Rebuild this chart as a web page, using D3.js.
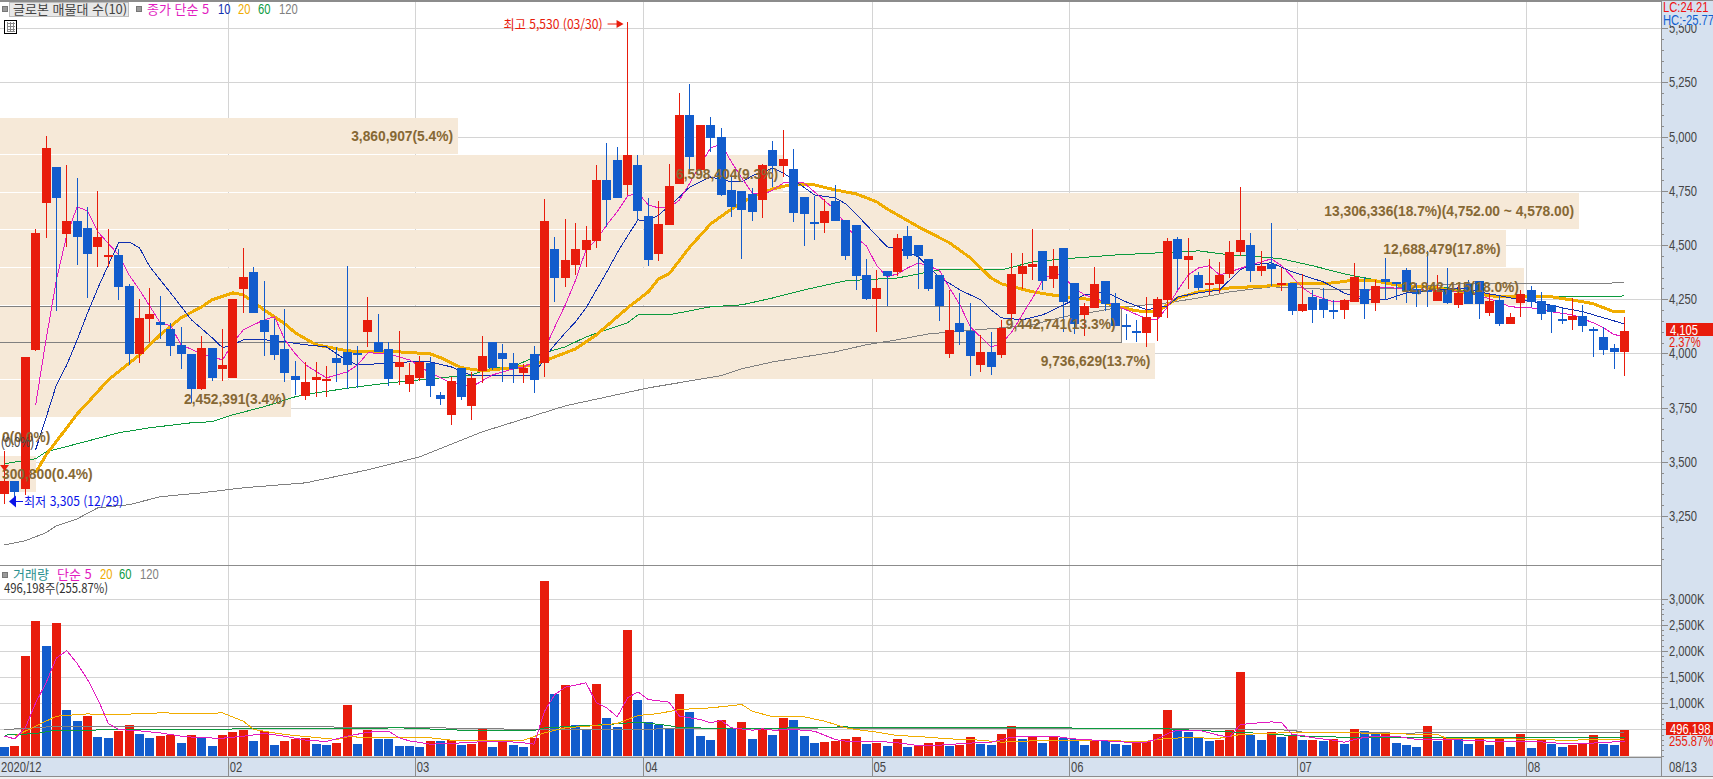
<!DOCTYPE html>
<html lang="ko"><head><meta charset="utf-8"><title>글로본 매물대</title>
<script src="https://cdn.jsdelivr.net/npm/d3@7/dist/d3.min.js"></script>
<style>
html,body{margin:0;padding:0;background:#fff;overflow:hidden}
svg{display:block}
text{font-family:"Liberation Sans","Noto Sans CJK KR",sans-serif;font-size:14px}
.band{font-family:"Liberation Sans","Noto Sans CJK KR",sans-serif;font-weight:bold;font-size:13.8px;fill:#866834}
.ko{font-family:"Noto Sans CJK KR",sans-serif;font-size:13px}
</style></head><body><div id="chart"></div>
<script>
const opens=[3353,3413,3376,4017,4694,4860,4551,4611,4579,4491,4445,4454,4312,3998,4159,4146,4113,4040,3998,3837,4026,3929,3887,4298,4376,4155,4086,4021,3897,3804,3878,3874,3980,4007,4003,4099,4053,4021,3938,3860,3887,3957,3809,3717,3934,3758,3920,4053,4003,3957,3910,3998,3957,4482,4348,4408,4478,4519,4800,4892,4777,4869,4634,4459,4593,4782,5100,4846,5054,4998,4754,4750,4736,4708,4939,4865,4851,4722,4607,4602,4703,4616,4593,4362,4252,4381,4376,4542,4500,4436,4362,3998,4141,4104,3947,4007,3993,4182,4367,4399,4473,4344,4487,4325,4178,4210,4335,4233,4132,4104,4095,4169,4247,4528,4431,4362,4316,4321,4367,4468,4500,4381,4413,4316,4325,4196,4261,4252,4201,4201,4238,4298,4233,4344,4330,4385,4298,4293,4242,4293,4224,4321,4335,4187,4247,4136,4233,4293,4242,4224,4159,4155,4173,4113,4076,4026,4007];
const highs=[3551,3413,3984,4574,5003,4860,4869,4809,4676,4750,4574,4482,4321,4252,4302,4265,4141,4123,3998,4081,4026,4113,4252,4487,4399,4335,4159,4205,3966,3961,3961,3943,4030,4404,4035,4261,4182,4053,4104,3957,3989,3984,3823,3892,3934,3915,4081,4053,4044,4003,3952,4035,4713,4537,4620,4602,4588,4869,4971,4952,5530,4915,4717,4703,4874,5201,5243,5054,5091,5040,4823,4750,4763,4874,4980,5031,4943,4722,4726,4713,4777,4616,4593,4436,4385,4381,4551,4588,4500,4436,4362,4293,4279,4233,4086,4099,4155,4464,4464,4574,4473,4482,4487,4325,4233,4399,4335,4279,4182,4155,4261,4261,4533,4537,4533,4376,4436,4422,4519,4768,4556,4473,4602,4395,4325,4367,4293,4302,4247,4252,4418,4353,4339,4441,4330,4395,4325,4473,4362,4395,4316,4339,4335,4279,4265,4187,4293,4312,4284,4224,4210,4256,4224,4123,4123,4044,4169];
const lows=[3305,3325,3348,4010,4533,4196,4491,4408,4256,4399,4399,4247,3947,3957,4053,4067,3989,3929,3772,3832,3874,3874,3887,4187,4187,3989,3970,3869,3809,3786,3800,3800,3869,3837,3841,4030,4007,3850,3855,3823,3874,3800,3763,3671,3786,3694,3864,3924,3869,3864,3864,3818,3892,4238,4307,4362,4399,4487,4584,4717,4731,4616,4404,4427,4593,4782,4846,4832,4929,4726,4630,4436,4611,4625,4768,4814,4607,4496,4524,4556,4611,4431,4293,4247,4099,4219,4358,4436,4298,4288,4150,3980,4040,3897,3915,3901,3980,4132,4298,4339,4293,4302,4099,4090,4081,4210,4196,4127,4063,4053,4030,4058,4164,4293,4298,4293,4270,4279,4348,4450,4330,4358,4312,4288,4178,4192,4141,4164,4159,4159,4238,4159,4196,4247,4247,4233,4215,4215,4242,4229,4210,4229,4159,4173,4127,4136,4169,4215,4155,4095,4136,4109,4099,3984,3993,3929,3897];
const closes=[3413,3359,3984,4556,4948,4717,4611,4537,4459,4537,4454,4307,3998,4164,4182,4132,4035,3998,3837,4026,3887,3947,4252,4353,4187,4099,3993,3910,3878,3869,3892,3883,3957,3947,3993,4155,4007,3883,3961,3901,3961,3850,3791,3874,3800,3887,3989,3934,3975,3929,3934,3878,4611,4348,4431,4482,4524,4800,4708,4717,4915,4657,4431,4597,4773,5100,4906,5054,4994,4731,4676,4662,4653,4869,4865,4897,4648,4643,4602,4657,4611,4450,4358,4252,4302,4358,4533,4450,4450,4298,4219,4109,4099,3989,4007,3938,4118,4367,4404,4413,4335,4404,4238,4136,4219,4321,4229,4127,4125,4095,4169,4252,4519,4436,4450,4302,4325,4362,4468,4524,4381,4404,4390,4325,4196,4229,4201,4201,4192,4247,4353,4229,4312,4330,4325,4288,4275,4284,4293,4233,4279,4229,4229,4242,4136,4169,4275,4238,4182,4192,4155,4173,4127,4104,4017,4007,4105];
const volumes=[153,191,1911,2580,2102,2542,879,669,764,363,344,459,592,420,344,382,401,248,401,344,191,401,440,497,268,459,210,268,306,344,229,210,248,975,229,497,325,325,191,191,172,268,268,287,210,229,516,172,287,210,153,344,3344,1185,1357,592,516,1376,726,554,2408,1070,631,592,516,1185,841,382,287,688,516,650,325,516,401,726,688,382,248,250,268,325,363,229,232,191,306,153,210,248,252,191,210,363,229,210,420,573,306,363,248,363,344,325,210,287,268,229,210,248,268,420,879,497,440,344,268,287,497,1605,401,287,440,363,401,287,290,268,306,229,516,459,420,440,248,210,172,573,268,363,344,229,325,210,306,172,420,134,287,229,172,210,215,401,229,210,496];

const ma5=[[3,3763],[4,4063],[5,4339],[6,4547],[7,4676],[8,4657],[9,4560],[11,4454],[12,4362],[13,4293],[15,4141],[16,4127],[17,4040],[19,3998],[21,3970],[22,4049],[23,4109],[25,4155],[26,4169],[27,4063],[28,3998],[29,3947],[31,3887],[33,3915],[34,3947],[35,4003],[37,3998],[39,3970],[41,3910],[43,3864],[45,3846],[47,3901],[49,3929],[50,3938],[51,3961],[52,4017],[53,4123],[54,4224],[55,4339],[56,4478],[57,4524],[58,4593],[59,4653],[60,4726],[61,4740],[62,4685],[63,4671],[64,4671],[65,4708],[66,4786],[67,4869],[68,4948],[69,4966],[70,4883],[71,4809],[72,4740],[73,4731],[74,4754],[75,4786],[77,4786],[78,4745],[79,4703],[80,4662],[81,4593],[82,4533],[83,4496],[84,4404],[85,4353],[86,4367],[87,4395],[88,4418],[90,4385],[91,4302],[92,4224],[93,4123],[94,4076],[95,4030],[96,4044],[97,4099],[98,4178],[99,4256],[100,4339],[101,4371],[102,4353],[103,4302],[104,4270],[106,4238],[108,4201],[110,4159],[111,4155],[112,4215],[113,4293],[114,4362],[115,4395],[116,4404],[117,4362],[118,4376],[120,4408],[122,4436],[123,4404],[125,4302],[126,4270],[128,4238],[130,4247],[132,4307],[135,4298],[138,4288],[141,4284],[143,4252],[145,4215],[147,4210],[149,4192],[151,4178],[152,4159],[153,4141],[154,4118],[155,4086],[156,4081]];
const ma10=[[3,3556],[4,3703],[5,3855],[6,3947],[7,4063],[8,4187],[9,4302],[10,4408],[11,4510],[12,4514],[13,4487],[14,4399],[16,4279],[18,4155],[20,4072],[21,4026],[22,4040],[23,4063],[25,4063],[27,4053],[29,4040],[31,4030],[33,3966],[34,3947],[36,3952],[39,3961],[41,3961],[43,3938],[45,3897],[48,3897],[51,3897],[52,3980],[53,4040],[54,4095],[55,4146],[56,4210],[57,4293],[58,4376],[59,4464],[60,4542],[61,4616],[62,4611],[63,4639],[64,4680],[65,4722],[66,4768],[67,4791],[68,4814],[70,4791],[71,4791],[72,4819],[74,4855],[75,4832],[76,4800],[78,4731],[80,4717],[81,4690],[82,4643],[84,4542],[85,4491],[86,4487],[88,4445],[90,4353],[92,4293],[94,4247],[95,4201],[96,4164],[98,4155],[100,4178],[102,4224],[104,4270],[106,4284],[108,4238],[110,4201],[112,4219],[113,4261],[115,4279],[117,4293],[118,4339],[119,4385],[120,4408],[122,4418],[124,4376],[127,4330],[129,4279],[131,4247],[133,4247],[135,4279],[137,4288],[140,4302],[142,4284],[146,4247],[148,4233],[150,4210],[152,4192],[154,4164],[156,4136]];
const ma20=[[3,3449],[4,3532],[6,3657],[7,3721],[8,3772],[10,3878],[13,3993],[15,4086],[17,4164],[19,4215],[20,4247],[22,4279],[23,4270],[25,4201],[27,4136],[28,4095],[30,4040],[33,4012],[35,4007],[38,4007],[41,3998],[42,3980],[44,3934],[46,3920],[49,3934],[51,3947],[53,3984],[55,4021],[56,4053],[57,4086],[58,4127],[60,4210],[62,4284],[63,4344],[64,4367],[66,4491],[68,4597],[70,4666],[72,4722],[74,4759],[76,4782],[78,4777],[80,4754],[82,4736],[84,4699],[85,4666],[86,4639],[88,4584],[91,4510],[93,4441],[95,4348],[96,4321],[99,4284],[102,4261],[105,4247],[107,4219],[109,4196],[111,4192],[113,4256],[115,4284],[118,4302],[122,4312],[124,4321],[128,4325],[130,4339],[132,4335],[134,4316],[138,4302],[141,4279],[144,4261],[149,4261],[152,4238],[153,4229],[155,4192],[156,4192]];
const ma60=[[0,3491],[3,3514],[4,3546],[7,3583],[11,3634],[14,3657],[18,3680],[20,3685],[22,3717],[25,3754],[28,3800],[30,3818],[34,3846],[37,3864],[40,3878],[43,3892],[45,3901],[47,3934],[49,3938],[50,3961],[52,4003],[54,4030],[56,4076],[58,4109],[60,4141],[61,4178],[64,4178],[68,4215],[71,4224],[74,4256],[77,4293],[81,4335],[86,4348],[90,4385],[96,4385],[99,4422],[102,4436],[107,4454],[115,4473],[118,4454],[121,4445],[123,4436],[126,4404],[129,4367],[132,4339],[136,4307],[139,4302],[142,4279],[145,4261],[147,4261],[152,4261],[156,4265]];
const ma120=[[0,3117],[2,3136],[4,3173],[5,3205],[7,3237],[9,3288],[12,3302],[15,3339],[19,3357],[23,3380],[29,3403],[35,3463],[40,3523],[46,3638],[54,3758],[62,3841],[69,3897],[71,3929],[74,3961],[77,3984],[80,4007],[83,4040],[86,4063],[89,4090],[96,4118],[99,4132],[102,4169],[105,4192],[107,4210],[112,4233],[115,4256],[118,4284],[122,4307],[125,4302],[128,4293],[131,4293],[136,4307],[140,4321],[156,4325]];

const volMa5=[[0,369],[1,318],[2,529],[3,1006],[4,1389],[5,1866],[6,2006],[7,1758],[8,1452],[9,1070],[10,611],[11,497],[13,471],[15,433],[16,401],[17,369],[19,338],[21,331],[23,369],[25,420],[27,369],[29,293],[31,268],[33,369],[35,446],[37,465],[38,338],[39,280],[41,217],[43,229],[45,255],[48,274],[50,242],[51,217],[52,847],[53,1166],[54,1306],[56,1389],[57,1006],[58,911],[59,739],[60,1102],[61,1217],[62,1070],[64,1019],[65,752],[67,688],[68,624],[69,669],[70,529],[72,484],[73,510],[74,484],[76,497],[78,465],[80,306],[81,274],[82,274],[84,274],[86,242],[88,191],[91,204],[92,229],[95,255],[97,350],[99,369],[101,369],[103,318],[105,293],[108,255],[110,255],[111,318],[112,420],[113,484],[115,484],[116,433],[117,382],[118,357],[119,592],[120,611],[122,643],[123,624],[124,401],[125,382],[126,338],[128,293],[129,255],[131,350],[133,369],[134,369],[136,306],[138,306],[141,293],[143,274],[146,268],[148,261],[150,229],[152,229],[154,248],[156,274]];
const volMa20=[[1,369],[3,561],[5,752],[8,796],[10,777],[15,815],[19,803],[21,815],[23,656],[24,497],[27,401],[31,325],[32,306],[33,357],[38,338],[41,338],[43,293],[46,293],[50,293],[52,433],[54,529],[57,573],[59,611],[61,764],[63,803],[65,879],[68,911],[71,975],[72,847],[74,739],[77,739],[79,656],[81,529],[82,497],[84,446],[86,382],[88,363],[91,318],[94,293],[96,255],[99,280],[105,280],[110,274],[112,331],[114,338],[117,331],[119,401],[123,433],[125,433],[130,433],[134,414],[138,401],[139,318],[145,318],[150,293],[156,306]];
const volMa60=[[0,389],[3,420],[4,452],[5,484],[20,497],[25,522],[32,510],[38,529],[44,484],[51,478],[52,529],[58,592],[61,637],[64,573],[65,529],[73,516],[81,548],[82,535],[111,522],[113,497],[120,433],[125,369],[129,350],[141,338],[156,338]];
const volMa120=[[0,497],[3,529],[5,561],[38,541],[51,497],[55,497],[81,529],[82,516],[118,510],[124,484],[125,446],[135,427],[140,446],[156,433]];

const bandEdges=[5086,4915,4740,4570,4395,4219,4049,3878,3703,3528,3357];
const bandVolumes=[3860907,6598404,13306336,12688479,12842415,9442741,9736629,2452391,0,300800];
const bandPercents=["5.4","9.3","18.7","17.8","18.0","13.3","13.7","3.4","0.0","0.4"];
const priceTicks=[3250,3500,3750,4000,4250,4500,4750,5000,5250,5500];
const volumeTicks=[500,1000,1500,2000,2500,3000];
const monthStarts=[22,40,62,84,103,125,147];
const monthLabels=["02","03","04","05","06","07","08"];
const maxBarIdx=60;

const W=1713,H=779,axisX=1661,paneBottom=565,axisBandTop=757,axisBandBottom=776;
const C={red:"#e81c0c",blue:"#125ccc",panel:"#d6e1ef",grid:"#d4d4d4",line:"#8c8c8c",beige:"#f6e9d8",ma5:"#e21cc0",ma10:"#0f2fb0",ma20:"#f0ac00",ma60:"#0c9a3e",ma120:"#808080",txt:"#444"};

const x=d3.scaleLinear().domain([0,156]).range([4.5,1624.5]);
const y=d3.scaleLinear().domain([3250,5500]).range([516,28.2]);
const yV=d3.scaleLinear().domain([0,3000]).range([755.5,598.6]);
const bandW=d3.scaleLinear().domain([0,13306336]).range([0,1579]);
const fmt=d3.format(",");

const svg=d3.select("#chart").append("svg").attr("width",W).attr("height",H).attr("viewBox",`0 0 ${W} ${H}`);
const crisp=s=>s.attr("shape-rendering","crispEdges");
const hline=(g,yy,x0,x1,c,w=1)=>crisp(g.append("line")).attr("x1",x0).attr("x2",x1).attr("y1",Math.round(yy)+.5).attr("y2",Math.round(yy)+.5).attr("stroke",c).attr("stroke-width",w);
const vline=(g,xx,y0,y1,c,w=1)=>crisp(g.append("line")).attr("x1",Math.round(xx)+.5).attr("x2",Math.round(xx)+.5).attr("y1",y0).attr("y2",y1).attr("stroke",c).attr("stroke-width",w);
const monthX=i=>x(i)-5.2;

// grid
const grid=svg.append("g");
priceTicks.forEach(v=>hline(grid,y(v),0,axisX,C.grid));
volumeTicks.forEach(v=>hline(grid,yV(v),0,axisX,C.grid));
hline(grid,yV(0),0,axisX,C.grid);
monthStarts.forEach(i=>vline(grid,monthX(i),0,axisBandTop,C.grid));

// volume-profile bands
const bands=svg.append("g");
bandVolumes.forEach((v,i)=>{
  if(!v) return;
  const t=Math.round(y(bandEdges[i])),b=Math.round(y(bandEdges[i+1]));
  crisp(bands.append("rect")).attr("x",0).attr("y",t).attr("width",bandW(v)).attr("height",b-t-1).attr("fill",C.beige);
});
// highest-density box
crisp(svg.append("path")).attr("fill","none").attr("stroke","#808080").attr("stroke-width",1)
 .attr("d",`M0 ${Math.round(y(bandEdges[5]))+.5}H${Math.round(bandW(bandVolumes[5]))+.5}V${Math.round(y(bandEdges[6]))-.5}H0`);

// price MAs (behind candles)
const line=(sc)=>d3.line().x(d=>x(d[0])).y(d=>sc(d[1]));
const maG=svg.append("g").attr("fill","none").attr("stroke-linejoin","round");
[[ma120,C.ma120,1],[ma60,C.ma60,1],[ma20,C.ma20,3],[ma10,C.ma10,1],[ma5,C.ma5,1]].forEach(([d,c,w])=>{
  crisp(maG.append("path")).attr("d",line(y)(d)).attr("stroke",c).attr("stroke-width",w);
});

// candles
const idx=d3.range(opens.length);
const cG=svg.append("g").selectAll("g").data(idx).join("g");
cG.each(function(i){
  const g=d3.select(this),up=closes[i]>=opens[i],c=up?C.red:C.blue;
  const cx=Math.floor(x(i));
  crisp(g.append("rect")).attr("x",cx).attr("width",1).attr("y",y(highs[i])).attr("height",y(lows[i])-y(highs[i])).attr("fill",c);
  const t=Math.round(y(Math.max(opens[i],closes[i]))),b=Math.round(y(Math.min(opens[i],closes[i])));
  crisp(g.append("rect")).attr("x",cx-4).attr("width",9).attr("y",t).attr("height",Math.max(2,b-t)).attr("fill",c);
});

// band labels
const labels=svg.append("g");
bandVolumes.forEach((v,i)=>{
  const t=(y(bandEdges[i])+y(bandEdges[i+1]))/2;
  let s=`${fmt(v)}(${bandPercents[i]}%)`;
  if(i===2) s+="(4,752.00 ~ 4,578.00)";
  const left=i>=8;
  labels.append("text").attr("class","band").attr("dy","0.36em").attr("y",t)
    .attr("x",left?2:bandW(v)-5).attr("text-anchor",left?"start":"end").text(s);
});
svg.append("text").attr("x",1).attr("y",447).attr("fill","#444").text("(0.0%)");

// high/low annotations
const ann=svg.append("g");
const hiY=24,loY=501;
ann.append("text").attr("class","ko fit").attr("data-w",99).attr("x",x(maxBarIdx)-124).attr("y",hiY+4.5).attr("fill","#e81c0c").text("최고 5,530 (03/30)");
ann.append("line").attr("x1",x(maxBarIdx)-20).attr("x2",x(maxBarIdx)-8).attr("y1",hiY).attr("y2",hiY).attr("stroke","#e81c0c").attr("stroke-width",1);
ann.append("path").attr("d",`M${x(maxBarIdx)-4} ${hiY}l-7 -4v8z`).attr("fill","#e81c0c");
ann.append("text").attr("class","ko fit").attr("data-w",99).attr("x",24).attr("y",loY+4.5).attr("fill","#0b14e8").text("최저 3,305 (12/29)");
ann.append("line").attr("x1",14).attr("x2",23).attr("y1",loY+.5).attr("y2",loY+.5).attr("stroke","#0b14e8").attr("stroke-width",1);
ann.append("path").attr("d",`M9 ${loY+.5}l7 -6v12z`).attr("fill","#0b14e8");
ann.append("path").attr("d",`M0 465h9l-4.5 6z`).attr("fill","#e81c0c");

// volume pane
const vG=svg.append("g");
idx.forEach(i=>{
  const up=i>0&&volumes[i]>volumes[i-1];
  crisp(vG.append("rect")).attr("x",Math.floor(x(i))-4).attr("width",9).attr("y",yV(volumes[i])).attr("height",yV(0)-yV(volumes[i])).attr("fill",up?C.red:C.blue);
});
const vmaG=svg.append("g").attr("fill","none");
[[volMa120,C.ma120,1],[volMa60,C.ma60,1],[volMa20,C.ma20,1],[volMa5,C.ma5,1]].forEach(([d,c,w])=>{
  crisp(vmaG.append("path")).attr("d",line(yV)(d)).attr("stroke",c).attr("stroke-width",w);
});

// right panel
crisp(svg.append("rect")).attr("x",axisX).attr("y",0).attr("width",W-axisX).attr("height",axisBandBottom).attr("fill",C.panel);
// x-axis strip
crisp(svg.append("rect")).attr("x",0).attr("y",axisBandTop).attr("width",W).attr("height",axisBandBottom-axisBandTop).attr("fill",C.panel);
crisp(svg.append("rect")).attr("x",0).attr("y",axisBandBottom).attr("width",W).attr("height",H-axisBandBottom).attr("fill","#f1f1f1");
const frame=svg.append("g");
hline(frame,0,0,W,"#8c8c8c",2);
hline(frame,paneBottom,0,axisX,C.line);
hline(frame,axisBandTop,0,axisX,C.line);
hline(frame,axisBandBottom,0,W,C.line);
vline(frame,axisX,0,axisBandBottom,C.line,1.5);
monthStarts.forEach((i,k)=>{
  vline(frame,monthX(i),axisBandTop,axisBandBottom,C.line);
  frame.append("text").attr("x",monthX(i)+2).attr("y",772).attr("fill",C.txt).text(monthLabels[k]);
});
frame.append("text").attr("x",1).attr("y",772).attr("fill",C.txt).text("2020/12");
frame.append("text").attr("x",1669).attr("y",772).attr("fill",C.txt).text("08/13");

// axes through d3
const styleAxis=(g)=>{
  g.select(".domain").remove();
  g.selectAll(".tick line").attr("stroke",C.line).attr("shape-rendering","crispEdges");
  g.selectAll(".tick text").attr("fill",C.txt).attr("font-family",null).attr("font-size",null);
};
const priceMinor=svg.append("g").attr("transform",`translate(${axisX},0)`)
  .call(d3.axisRight(y).tickValues(d3.range(3050,5650,50).filter(v=>!priceTicks.includes(v))).tickSize(3).tickFormat(""));
styleAxis(priceMinor);
const priceAxis=svg.append("g").attr("transform",`translate(${axisX},0)`)
  .call(d3.axisRight(y).tickValues(priceTicks).tickSize(7).tickPadding(1).tickFormat(fmt));
styleAxis(priceAxis);
const volMinor=svg.append("g").attr("transform",`translate(${axisX},0)`)
  .call(d3.axisRight(yV).tickValues(d3.range(0,3100,100).filter(v=>!volumeTicks.includes(v))).tickSize(3).tickFormat(""));
styleAxis(volMinor);
const volAxis=svg.append("g").attr("transform",`translate(${axisX},0)`)
  .call(d3.axisRight(yV).tickValues(volumeTicks).tickSize(7).tickPadding(1).tickFormat(d=>fmt(d)+"K"));
styleAxis(volAxis);

// price and volume flags
const flag=(yy,h,t1,t2)=>{
  crisp(svg.append("rect")).attr("x",1666).attr("y",yy).attr("width",W-1666).attr("height",h).attr("fill",C.red);
  svg.append("text").attr("x",1670).attr("y",yy+h-1.5).attr("fill","#fff").text(t1);
  svg.append("text").attr("x",1669).attr("y",yy+h+11).attr("fill",C.red).text(t2);
};
flag(323,13,"4,105","2.37%");
flag(722,13,"496,198","255.87%");
svg.append("rect").attr("x",1662).attr("y",1).attr("width",51).attr("height",24).attr("fill",C.panel);
svg.append("text").attr("x",1663).attr("y",12).attr("fill","#f01010").text("LC:24.21");
svg.append("text").attr("x",1663).attr("y",25).attr("fill","#1060d0").text("HC:-25.77");

// top legend
const leg=svg.append("g").attr("class","legend");
const sq=(xx,yy)=>crisp(leg.append("rect")).attr("x",xx).attr("y",yy).attr("width",5).attr("height",5).attr("fill","#9a9a9a").attr("stroke","#777");
sq(2,6);sq(136,6);
crisp(leg.append("rect")).attr("x",9.5).attr("y",2.5).attr("width",119).attr("height",14).attr("fill","#e8e8e8").attr("stroke","#bdbdbd");
leg.append("text").attr("class","ko").attr("x",13).attr("y",14).attr("fill","#444").text("글로본 매물대 수(10)");
const legItems=[["종가 단순 5",147,C.ma5,"ko"],["10",218,C.ma10,""],["20",238,C.ma20,""],["60",258,C.ma60,""],["120",279,C.ma120,""]];
legItems.forEach(([t,xx,c,k])=>leg.append("text").attr("class",k).attr("x",xx).attr("y",14).attr("fill",c).text(t));
// table icon
crisp(leg.append("rect")).attr("x",4.5).attr("y",20.5).attr("width",12).attr("height",13).attr("fill","#fff").attr("stroke","#000");
crisp(leg.append("path")).attr("d","M6.5 23.5h8M6.5 26.5h8M6.5 29.5h8M6.5 31.5h8M7.5 22v10M10.5 22v10M13.5 22v10").attr("stroke","#888").attr("fill","none");

// volume legend
sq(2,572);
const vItems=[["거래량",13,"#2a9090","ko"],["단순 5",57,C.ma5,"ko"],["20",100,C.ma20,""],["60",119,C.ma60,""],["120",140,C.ma120,""]];
vItems.forEach(([t,xx,c,k])=>leg.append("text").attr("class",k).attr("x",xx).attr("y",579).attr("fill",c).text(t));
leg.append("text").attr("class","ko fit").attr("data-w",104).attr("x",4).attr("y",593).attr("fill","#333").text("496,198주(255.87%)");

// condense the digit labels to the narrow look of the original bitmap font
svg.selectAll("text").each(function(){
  const t=d3.select(this),cls=t.attr("class")||"";
  if(cls.includes("band")||(cls.includes("ko")&&!cls.includes("fit"))) return;
  const w=cls.includes("fit")?+t.attr("data-w"):this.getComputedTextLength()*0.8;
  t.attr("textLength",w).attr("lengthAdjust","spacingAndGlyphs");
});
</script></body></html>
